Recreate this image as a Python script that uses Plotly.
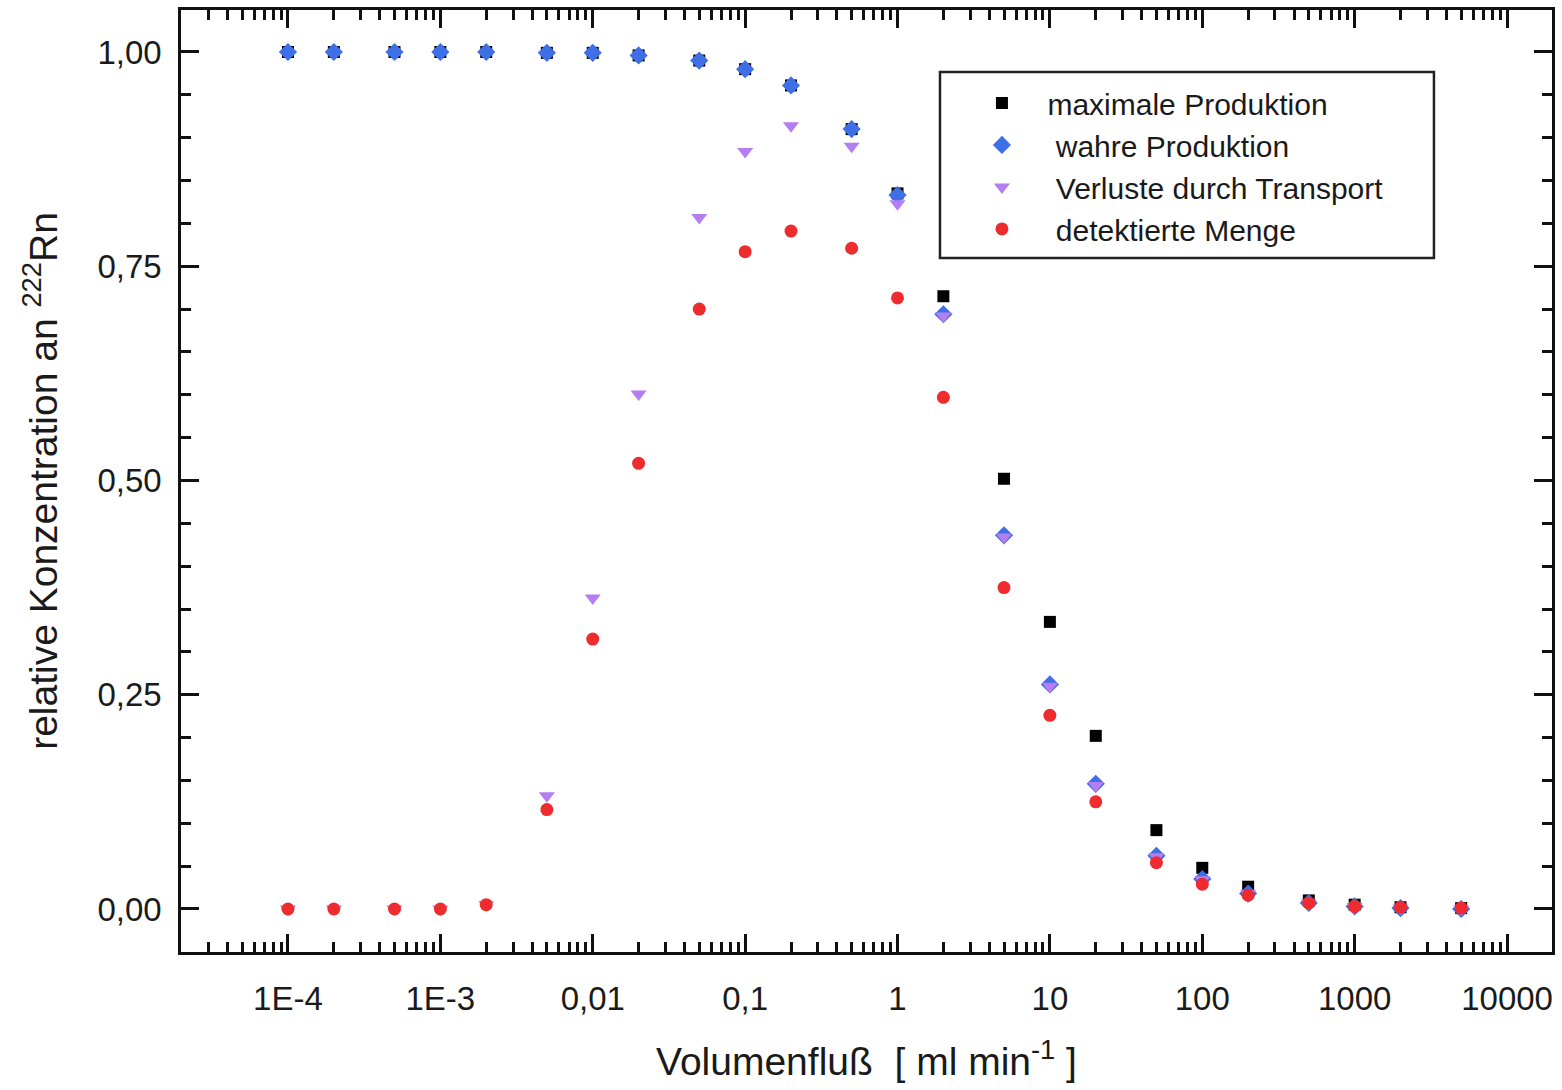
import plotly.graph_objects as go

flow = [1e-4, 2e-4, 5e-4, 1e-3, 2e-3, 5e-3, 0.01, 0.02, 0.05, 0.1, 0.2, 0.5,
        1, 2, 5, 10, 20, 50, 100, 200, 500, 1000, 2000, 5000]

max_prod = [1.0, 1.0, 1.0, 1.0, 1.0, 0.999, 0.999, 0.996, 0.990, 0.980, 0.961, 0.910,
            0.835, 0.715, 0.502, 0.335, 0.202, 0.092, 0.048, 0.026, 0.010, 0.005, 0.002, 0.001]

true_prod = [1.0, 1.0, 1.0, 1.0, 1.0, 0.999, 0.999, 0.996, 0.990, 0.980, 0.961, 0.910,
             0.833, 0.694, 0.436, 0.262, 0.146, 0.062, 0.035, 0.018, 0.007, 0.003, 0.001, 0.0]

transport = [0.0, 0.0, 0.0, 0.0, 0.005, 0.132, 0.363, 0.601, 0.807, 0.884, 0.914, 0.890,
             0.823, 0.692, 0.434, 0.260, 0.144, 0.061, 0.034, 0.018, 0.007, 0.003, 0.001, 0.0]

detected = [0.0, 0.0, 0.0, 0.0, 0.005, 0.116, 0.315, 0.520, 0.700, 0.767, 0.791, 0.771,
            0.713, 0.597, 0.375, 0.226, 0.125, 0.054, 0.029, 0.016, 0.007, 0.003, 0.002, 0.001]

x_tickvals = [1e-4, 1e-3, 1e-2, 1e-1, 1, 10, 100, 1000, 10000]
x_ticktext = ["1E-4", "1E-3", "0,01", "0,1", "1", "10", "100", "1000", "10000"]
y_tickvals = [0.0, 0.25, 0.5, 0.75, 1.0]
y_ticktext = ["0,00", "0,25", "0,50", "0,75", "1,00"]

series = [
    ("maximale Produktion", max_prod, "square", "#000000", 12),
    (" wahre Produktion", true_prod, "diamond", "#3f6fe6", 14),
    (" Verluste durch Transport", transport, "triangle-down", "#b57ef0", 14),
    (" detektierte Menge", detected, "circle", "#ee2b2f", 13),
]

fig = go.Figure()
for name, vals, sym, col, size in series:
    fig.add_trace(go.Scatter(x=flow, y=vals, mode="markers", name=name,
                             marker=dict(symbol=sym, color=col, size=size, line=dict(width=0))))

font_family = "Liberation Sans, Arial, sans-serif"
axis_col = "#111111"

fig.update_layout(
    width=1562, height=1090,
    margin=dict(l=181, r=10, t=10, b=138),
    paper_bgcolor="white", plot_bgcolor="white",
    font=dict(family=font_family, color="#1a1a1a", size=30),
    showlegend=True,
    legend=dict(x=0.5656, y=0.929, xanchor="left", yanchor="top",
                bgcolor="rgba(0,0,0,0)", borderwidth=0, itemwidth=81,
                font=dict(size=30, family=font_family)),
    shapes=[dict(type="rect", xref="paper", yref="paper",
                 x0=0.5536, x1=0.9139, y0=0.7367, y1=0.9342,
                 line=dict(color="#222222", width=2.5), fillcolor="white", layer="below")],
)

fig.update_xaxes(
    type="log", range=[-4.702, 4.295], automargin=False,
    tickvals=x_tickvals, ticktext=x_ticktext,
    ticks="inside", ticklen=18, tickwidth=2.5, tickcolor=axis_col,
    minor=dict(ticks="inside", ticklen=10, tickwidth=2.5, tickcolor=axis_col,
               dtick="D1", showgrid=False),
    showline=True, linecolor=axis_col, linewidth=2.5, mirror="allticks",
    showgrid=False, zeroline=False,
    tickfont=dict(size=33), ticklabelstandoff=16,
    title=dict(text="Volumenfluß  [ ml min<sup>-1</sup> ]", font=dict(size=39), standoff=32),
)

fig.update_yaxes(
    range=[-0.0502, 1.049], automargin=False,
    tickvals=y_tickvals, ticktext=y_ticktext,
    ticks="inside", ticklen=18, tickwidth=2.5, tickcolor=axis_col,
    minor=dict(ticks="inside", ticklen=10, tickwidth=2.5, tickcolor=axis_col,
               dtick=0.05, tick0=0, showgrid=False),
    showline=True, linecolor=axis_col, linewidth=2.5, mirror="allticks",
    showgrid=False, zeroline=False,
    tickfont=dict(size=33), ticklabelstandoff=10,
    title=dict(text="relative Konzentration an <sup>222</sup>Rn", font=dict(size=39), standoff=28),
)

fig.write_html("out.html", config={"displayModeBar": False},
               post_script="document.body.style.margin='0';document.body.style.overflow='hidden';")
